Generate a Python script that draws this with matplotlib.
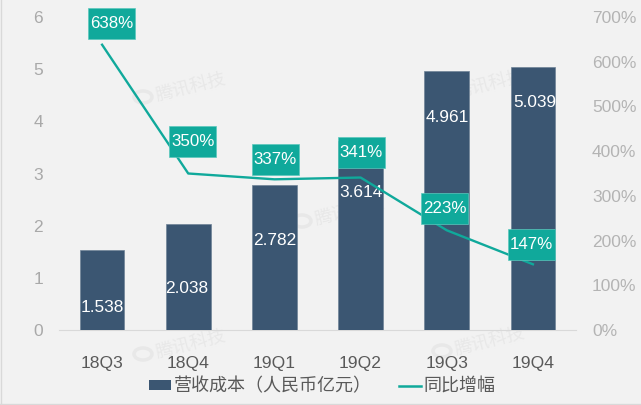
import matplotlib
matplotlib.use('Agg')
import matplotlib.pyplot as plt
from matplotlib.lines import Line2D
from matplotlib.patches import Ellipse, Rectangle
from matplotlib.transforms import IdentityTransform

plt.rcParams['font.family'] = ['Liberation Sans', 'Noto Sans CJK SC', 'DejaVu Sans']

quarters = ['18Q3', '18Q4', '19Q1', '19Q2', '19Q3', '19Q4']
cost = [1.538, 2.038, 2.782, 3.614, 4.961, 5.039]
growth = [638, 350, 337, 341, 223, 147]
cost_labels = ['1.538', '2.038', '2.782', '3.614', '4.961', '5.039']
growth_labels = ['638%', '350%', '337%', '341%', '223%', '147%']

# label offsets from the mark, in pixels
growth_offset = [(9.4, 21.2), (4.7, 32.5), (0.6, 19.8), (0.9, 25), (-1.8, 21.3), (-1.5, 19.8)]
cost_y = [0.44, 0.80, 1.72, 2.64, 4.08, 4.36]
cost_dx = [0, -0.02, 0, 0, 0.01, 0.02]

W, H = 641, 405
bar_color = '#3b5672'
teal = '#10a99b'

fig = plt.figure(figsize=(W / 100, H / 100), dpi=100, facecolor='#f2f2f2')
ax = fig.add_axes([59 / W, 1 - 330 / H, 517 / W, 313 / H])
ax.patch.set_visible(False)

x = list(range(len(quarters)))
ax.bar(x, cost, width=0.52, color=bar_color, edgecolor='#6f8397', linewidth=0.5, zorder=2)
ax.set_xlim(-0.5, 5.5)
ax.set_ylim(0, 6)
ax.set_yticks(range(7))
ax.set_xticks(x)
ax.set_xticklabels(quarters, fontsize=12.6, color='#595959')
ax.tick_params(axis='x', length=0, pad=18.5)
ax.tick_params(axis='y', length=0, pad=11.5, labelsize=12.5, labelcolor='#a9a9a9')
for s in ['top', 'left', 'right']:
    ax.spines[s].set_visible(False)
ax.spines['bottom'].set_color('#d9d9d9')
ax.spines['bottom'].set_zorder(1)

for i in x:
    ax.text(i + cost_dx[i], cost_y[i], cost_labels[i], color='white', fontsize=12.4,
            ha='center', va='center', zorder=6)

ax2 = ax.twinx()
ax2.patch.set_visible(False)
ax2.plot(x, growth, color=teal, linewidth=1.7, zorder=3)
ax2.set_ylim(0, 700)
ax2.set_yticks(range(0, 701, 100))
ax2.set_yticklabels([f'{v}%' for v in range(0, 701, 100)])
ax2.tick_params(axis='y', length=0, pad=11.5, labelsize=12.5, labelcolor='#b4b4b4')
for s in ax2.spines.values():
    s.set_visible(False)

# teal boxes are a fixed pixel size, taller than a text bbox would give
for i in x:
    dx, dy = growth_offset[i]
    px, py = ax2.transData.transform((x[i], growth[i]))
    ax2.add_patch(Rectangle((px + dx - 23.5, py + dy - 15.5), 47, 31, fc=teal, ec='#5cc8bd', lw=0.5,
                            transform=IdentityTransform(), zorder=4, clip_on=False))
    ax2.annotate(growth_labels[i], (x[i], growth[i]), xytext=(dx * 0.72, dy * 0.72),
                 textcoords='offset points', ha='center', va='center', color='white',
                 fontsize=12.2, zorder=5, annotation_clip=False)

# watermarks sit behind the bars
for wx, wy in [(183, 88), (482, 85), (183, 345), (482, 342), (342, 212)]:
    fig.text((wx + 8) / W, 1 - wy / H, '腾讯科技', fontsize=13, color='#e8e8e8', rotation=14,
             ha='center', va='center', zorder=-1)
    fig.add_artist(Ellipse(((wx - 40) / W, 1 - (wy + 9) / H), 18 / W, 12 / H,
                           fill=False, ec='#e8e8e8', lw=2.5, zorder=-1))

handles = [Rectangle((0, 0), 1, 1, fc=bar_color), Line2D([0], [0], color=teal, lw=1.8)]
fig.legend(handles, ['营收成本（人民币亿元）', '同比增幅'], ncol=2, frameon=False, fontsize=13,
           labelcolor='#595959', loc='center', bbox_to_anchor=(322 / W, 1 - 387 / H),
           handlelength=1.22, handleheight=0.5, handletextpad=0.15, columnspacing=1.5)

# thin frame of the screenshot
fig.add_artist(Line2D([0.5 / W, 0.5 / W], [0, 1], color='#d9d9d9', lw=1))
fig.add_artist(Line2D([0, 1], [1.5 / H, 1.5 / H], color='#d9d9d9', lw=1))

fig.savefig('out.png', dpi=100, facecolor=fig.get_facecolor())
